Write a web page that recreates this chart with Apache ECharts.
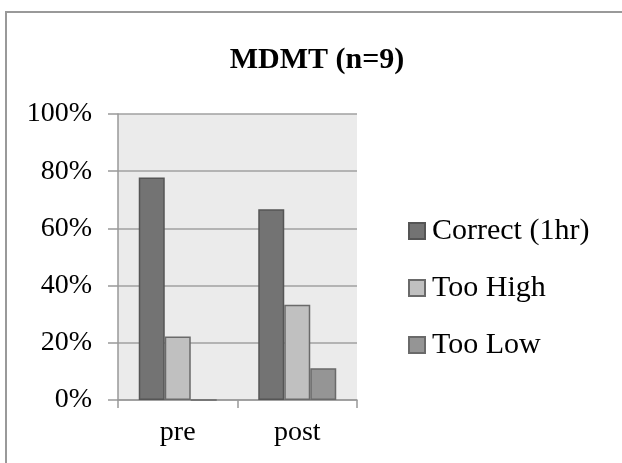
<!DOCTYPE html>
<html>
<head>
<meta charset="utf-8">
<script src="https://cdn.jsdelivr.net/npm/echarts@6/dist/echarts.min.js"></script>
<style>
html,body{margin:0;padding:0;background:#fff;}
#chart{width:622px;height:463px;}
</style>
</head>
<body>
<div id="chart"></div>
<script>
const titleText = 'MDMT (n=9)';
const categories = ['pre', 'post'];
const seriesNames = ['Correct (1hr)', 'Too High', 'Too Low'];
const correctVals = [77.8, 66.7];
const tooHighVals = [22.2, 33.3];
const tooLowVals = [0, 11.1];
const yTicks = [0, 20, 40, 60, 80, 100];

const fills = ['#737373', '#c0c0c0', '#959595'];
const borders = ['#555555', '#6a6a6a', '#6a6a6a'];
const dataSets = [correctVals, tooHighVals, tooLowVals];
const serif = '"Liberation Serif", "Times New Roman", serif';

const chart = echarts.init(document.getElementById('chart'));
chart.setOption({
  animation: false,
  backgroundColor: '#ffffff',
  title: {
    text: titleText,
    left: 312,
    textAlign: 'center',
    top: 40,
    textStyle: { fontFamily: serif, fontWeight: 'bold', fontSize: 30, color: '#000' }
  },
  graphic: [{
    type: 'rect',
    shape: { x: 6, y: 12, width: 700, height: 600 },
    style: { fill: 'none', stroke: '#999999', lineWidth: 2 },
    silent: true
  }],
  legend: {
    orient: 'vertical',
    left: 403,
    top: 209,
    itemWidth: 16,
    itemHeight: 16,
    itemGap: 23,
    icon: 'rect',
    textStyle: { fontFamily: serif, fontSize: 30, color: '#000', lineHeight: 30, padding: [4, 0, 0, 2] },
    data: seriesNames
  },
  grid: {
    left: 118, right: 265, top: 114, bottom: 63,
    show: true, backgroundColor: '#ebebeb', borderWidth: 0
  },
  xAxis: {
    type: 'category',
    data: categories,
    axisLine: { show: true, lineStyle: { color: '#999999', width: 1.5 } },
    axisTick: { show: true, length: 8, lineStyle: { color: '#999999', width: 1.5 } },
    axisLabel: { fontFamily: serif, fontSize: 28, color: '#000', margin: 19 }
  },
  yAxis: {
    type: 'value',
    min: 0, max: 100, interval: 20,
    axisLine: { show: true, lineStyle: { color: '#999999', width: 1.5 } },
    axisTick: { show: true, length: 10, lineStyle: { color: '#999999', width: 1.5 } },
    splitLine: { show: true, lineStyle: { color: '#a0a0a0', width: 1.5 } },
    axisLabel: {
      fontFamily: serif, fontSize: 28, color: '#000', margin: 26,
      formatter: function (v) { return yTicks.indexOf(v) >= 0 ? v + '%' : ''; }
    }
  },
  series: seriesNames.map(function (name, i) {
    return {
      name: name,
      type: 'bar',
      data: dataSets[i],
      barWidth: 26,
      barGap: '0%',
      itemStyle: { color: fills[i], borderColor: borders[i], borderWidth: 1.5 }
    };
  })
});
</script>
</body>
</html>
